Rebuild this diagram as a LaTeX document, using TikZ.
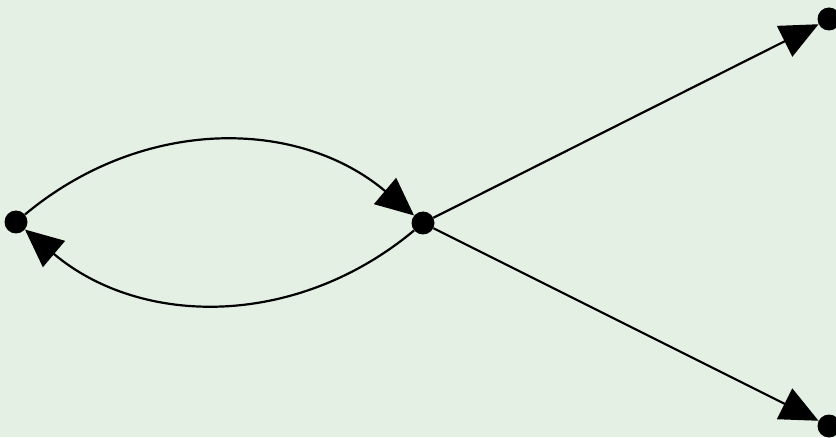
\documentclass[tikz,border=0pt]{standalone}
\usepackage{tikz}
\usetikzlibrary{arrows.meta}
\definecolor{graphBg}{HTML}{E5F0E5}

\begin{document}
\begin{tikzpicture}[
    x=1pt, y=1pt,
    >={Triangle[length=38pt, width=34pt]},
    dot/.style={circle, fill=black, inner sep=0pt, minimum size=23pt},
    edge/.style={->, line width=2.2pt},
  ]

  % --- canvas ---
  \fill[graphBg] (0,0) rectangle (836,437);
  \useasboundingbox (0,0) rectangle (836,437);

  % --- vertices ---
  \node[dot] (left) at (16,215) {};
  \node[dot] (mid)  at (423,214) {};
  \node[dot] (top)  at (829,418) {};
  \node[dot] (bot)  at (829,11) {};

  % --- edges ---
  \draw[edge] (left) to[bend left=40] (mid);
  \draw[edge] (mid) to[bend left=40] (left);
  \draw[edge] (mid) -- (top);
  \draw[edge] (mid) -- (bot);

\end{tikzpicture}
\end{document}
